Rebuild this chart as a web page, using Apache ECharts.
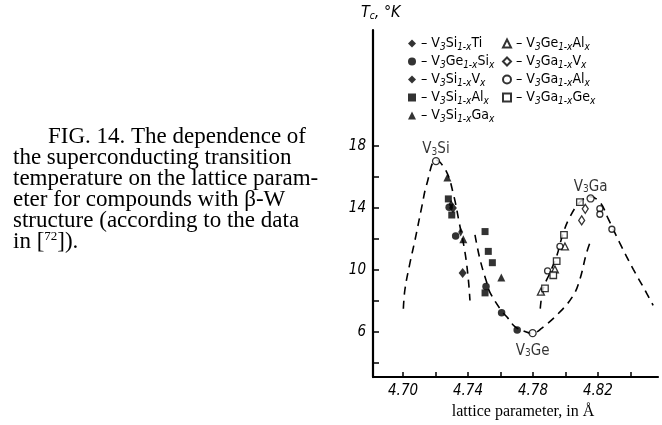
<!DOCTYPE html>
<html><head><meta charset="utf-8">
<script src="https://cdn.jsdelivr.net/npm/echarts@6/dist/echarts.min.js"></script>
<style>html,body{margin:0;padding:0;background:#fff}#c{width:662px;height:425px}</style>
</head><body><div id="c"></div>
<script>
// ---- data ----
const xTicks = [4.70, 4.72, 4.74, 4.76, 4.78, 4.80, 4.82, 4.84];
const xLabels = [4.70, 4.74, 4.78, 4.82];
const yTicks = [4, 6, 8, 10, 12, 14, 16, 18];
const yLabels = [6, 10, 14, 18];

const ptsSiTi = [[4.7355, 12.45], [4.7296, 14.25]];
const ptsGeSi = [[4.7284, 14.05], [4.7324, 12.2], [4.7511, 8.94], [4.7607, 7.23], [4.7703, 6.13]];
const ptsSiV  = [[4.7307, 14.0], [4.7367, 9.8]];
const ptsSiAl = [[4.7279, 14.59], [4.7300, 13.55], [4.7505, 12.48], [4.7525, 11.2], [4.7550, 10.47], [4.7505, 8.52]];
const ptsSiGa = [[4.7273, 15.97], [4.7371, 11.99], [4.7605, 9.51]];
const ptsGeAl = [[4.7849, 8.6], [4.7935, 10.04], [4.7997, 11.52]];
const ptsGaV  = [[4.8122, 13.95], [4.8100, 13.2]];
const ptsGaAl = [[4.7890, 9.94], [4.7966, 11.52], [4.8212, 13.96], [4.8212, 13.6], [4.8286, 12.63]];
const ptsGaGe = [[4.7874, 8.81], [4.7925, 9.66], [4.7946, 10.57], [4.7991, 12.27], [4.8089, 14.38]];
const pureNames = ['V3Si', 'V3Ge', 'V3Ga'];
const pureVals = [[4.7203, 17.03], [4.7798, 5.92], [4.8155, 14.62]];

const curveSi = [[4.7002, 7.5], [4.7012, 8.77], [4.7043, 10.47], [4.7074, 11.95], [4.7115, 14.06], [4.7146, 15.54],
  [4.7203, 17.1], [4.7265, 16.4], [4.7310, 14.9], [4.7347, 13.0], [4.7382, 11.1], [4.7402, 9.4], [4.7412, 8.03]];
const curveGe = [[4.7443, 12.27], [4.7474, 10.68], [4.7515, 9.2], [4.7535, 8.56], [4.7607, 7.35], [4.7646, 6.89],
  [4.7689, 6.34], [4.7751, 6.02], [4.7795, 5.9], [4.7853, 6.23], [4.7966, 7.29], [4.8048, 8.35], [4.8089, 9.4],
  [4.8130, 11.1], [4.8161, 12.05]];
const curveGa = [[4.7845, 7.5], [4.7863, 8.77], [4.7905, 9.83], [4.7946, 10.89], [4.7986, 12.37], [4.8028, 13.43],
  [4.8089, 14.38], [4.8151, 14.74], [4.8212, 14.38], [4.8263, 13.32], [4.8335, 11.73], [4.8418, 10.04],
  [4.8497, 8.56], [4.8540, 7.71]];

const legendLeft = ['V3Si1-xTi', 'V3Ge1-xSix', 'V3Si1-xVx', 'V3Si1-xAlx', 'V3Si1-xGax'];
const legendRight = ['V3Ge1-xAlx', 'V3Ga1-xVx', 'V3Ga1-xAlx', 'V3Ga1-xGex'];
const legendText = {
  'V3Si1-xTi': '– V{s|3}Si{s|1-x}Ti',
  'V3Ge1-xSix': '– V{s|3}Ge{s|1-x}Si{s|x}',
  'V3Si1-xVx': '– V{s|3}Si{s|1-x}V{s|x}',
  'V3Si1-xAlx': '– V{s|3}Si{s|1-x}Al{s|x}',
  'V3Si1-xGax': '– V{s|3}Si{s|1-x}Ga{s|x}',
  'V3Ge1-xAlx': '– V{s|3}Ge{s|1-x}Al{s|x}',
  'V3Ga1-xVx': '– V{s|3}Ga{s|1-x}V{s|x}',
  'V3Ga1-xAlx': '– V{s|3}Ga{s|1-x}Al{s|x}',
  'V3Ga1-xGex': '– V{s|3}Ga{s|1-x}Ge{s|x}'
};
const pureText = {'V3Si': 'V{s|3}Si', 'V3Ge': 'V{s|3}Ge', 'V3Ga': 'V{s|3}Ga'};
const captionLines = [
  'FIG. 14. The dependence of',
  'the superconducting transition',
  'temperature on the lattice param-',
  'eter for compounds with β-W',
  'structure (according to the data',
  'in [{p|72}]).'
];

// ---- chart ----
const narrow = '"Liberation Sans Narrow", "DejaVu Sans Condensed", sans-serif';
const serif = '"Liberation Serif", "DejaVu Serif", serif';
const richSub = {
  s: {fontSize: 10, fontFamily: narrow, fontStyle: 'italic', verticalAlign: 'bottom', color: '#000'}
};
const filled = {color: '#000'};
const hollow = {color: '#fff', borderColor: '#000', borderWidth: 1.3};

function scatter(name, data, symbol, size, style) {
  return {name, type: 'scatter', data, symbol, symbolSize: size, itemStyle: style, z: 5};
}
function curve(data) {
  return {type: 'line', data, smooth: 0.4, symbol: 'none', silent: true, z: 2,
    lineStyle: {color: '#000', width: 1.6, type: [8, 6]}};
}
const legendCommon = {
  orient: 'vertical', itemWidth: 8, itemHeight: 8, itemGap: 1, padding: 0,
  textStyle: {fontFamily: narrow, fontSize: 14, color: '#000', lineHeight: 17, rich: richSub},
  formatter: n => legendText[n], selectedMode: false
};

const chart = echarts.init(document.getElementById('c'), null, {renderer: 'canvas'});
chart.setOption({
  animation: false,
  backgroundColor: '#fff',
  grid: {left: 373, right: 4, top: 30, bottom: 42},
  xAxis: {
    type: 'value', min: 4.6815, max: 4.857,
    name: 'lattice parameter, in Å', nameLocation: 'middle', nameGap: 14,
    nameTextStyle: {fontFamily: serif, fontSize: 16, color: '#000', verticalAlign: 'top', padding: [0, 0, 0, 15]},
    axisLine: {onZero: false, lineStyle: {color: '#000', width: 2.2}},
    axisTick: {inside: true, length: 5, customValues: xTicks, lineStyle: {color: '#000', width: 1.5}},
    axisLabel: {customValues: xLabels, formatter: v => v.toFixed(2), margin: 7,
      fontFamily: narrow, fontStyle: 'italic', fontSize: 15, color: '#000'},
    splitLine: {show: false}
  },
  yAxis: {
    type: 'value', min: 3.08, max: 25.5,
    axisLine: {onZero: false, lineStyle: {color: '#000', width: 2.2}},
    axisTick: {inside: true, length: 6, customValues: yTicks, lineStyle: {color: '#000', width: 1.5}},
    axisLabel: {customValues: yLabels, margin: 7,
      fontFamily: narrow, fontStyle: 'italic', fontSize: 15, color: '#000'},
    splitLine: {show: false}
  },
  legend: [
    Object.assign({left: 408, top: 35, data: legendLeft}, legendCommon),
    Object.assign({left: 502, top: 35, data: legendRight}, legendCommon)
  ],
  graphic: [
    {type: 'text', left: 361, top: 5, style: {text: 'T{s|c}, °K', fill: '#000',
      font: 'italic 16px ' + narrow, rich: {s: {fontSize: 10, fontStyle: 'italic', fontFamily: narrow, verticalAlign: 'bottom'}}}}
  ].concat(captionLines.map((t, i) => ({
    type: 'text', x: i === 0 ? 48 : 13, y: 137 + i * 20.9,
    style: {text: t, fill: '#000', font: '23px ' + serif, verticalAlign: 'middle',
      rich: {p: {fontSize: 13, fontFamily: serif, verticalAlign: 'top'}}}
  }))),
  series: [
    curve(curveSi), curve(curveGe), curve(curveGa),
    scatter('V3Si1-xTi', ptsSiTi, 'diamond', [5, 9], filled),
    scatter('V3Ge1-xSix', ptsGeSi, 'circle', 7.5, filled),
    scatter('V3Si1-xVx', ptsSiV, 'diamond', [8, 10], filled),
    scatter('V3Si1-xAlx', ptsSiAl, 'rect', 7, filled),
    scatter('V3Si1-xGax', ptsSiGa, 'triangle', 8, filled),
    scatter('V3Ge1-xAlx', ptsGeAl, 'triangle', 7, hollow),
    scatter('V3Ga1-xVx', ptsGaV, 'diamond', [6, 9], hollow),
    scatter('V3Ga1-xAlx', ptsGaAl, 'circle', 6, hollow),
    scatter('V3Ga1-xGex', ptsGaGe, 'rect', 6.5, hollow),
    {
      type: 'scatter', symbol: 'circle', symbolSize: 7, itemStyle: hollow, z: 6,
      data: pureNames.map((n, i) => ({
        value: pureVals[i], name: n,
        label: {show: true, position: n === 'V3Ge' ? 'bottom' : 'top', distance: n === 'V3Ge' ? 6 : 0,
          formatter: pureText[n], fontFamily: narrow, fontSize: 15, color: '#000',
          rich: {s: Object.assign({}, richSub.s, {fontStyle: 'normal'})}}
      }))
    }
  ]
});
</script></body></html>
